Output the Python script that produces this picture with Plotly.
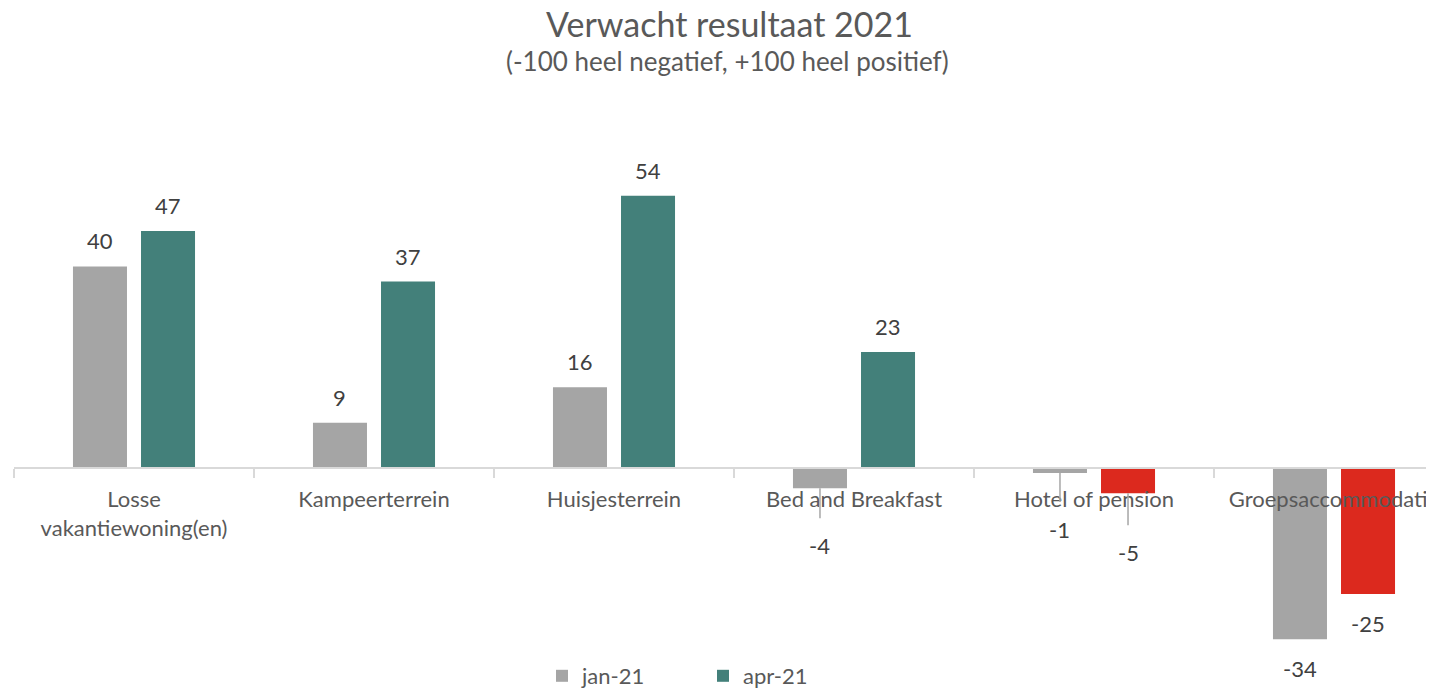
import plotly.graph_objects as go

categories = ["Losse<br>vakantiewoning(en)", "Kampeerterrein", "Huisjesterrein",
              "Bed and Breakfast", "Hotel of pension", "Groepsaccommodatie"]
jan21 = [40, 9, 16, -4, -1, -34]
apr21 = [47, 37, 54, 23, -5, -25]
series_names = ["jan-21", "apr-21"]

GRAY = "#A5A5A5"
TEAL = "#43807A"
RED = "#DC291E"
LABEL = "#404040"
AXIS = "#595959"
FONT = "Lato, 'Open Sans', sans-serif"

# page has an 8px body margin; figure is sized to fit the window
OFF = 8
W, H = 1434 - OFF, 688 - OFF
ML, MR, MT, MB = 14 - OFF, 0, 160 - OFF, 38
cat_px = 240.0
plot_w = W - ML - MR
plot_h = H - MT - MB
px_per_unit = 5.04
zero_px = 468 - OFF
ymax = (zero_px - MT) / px_per_unit
ymin = -((H - MB) - zero_px) / px_per_unit
bargap = 0.433
bar_shift = cat_px * (1 - bargap) / 4

apr_colors = [TEAL if v >= 0 else RED for v in apr21]

fig = go.Figure()
fig.add_trace(go.Bar(name=series_names[0], x=categories, y=jan21,
                     marker=dict(color=GRAY, line_width=0), hoverinfo="x+y"))
fig.add_trace(go.Bar(name=series_names[1], x=categories, y=apr21,
                     marker=dict(color=apr_colors, line_width=0), hoverinfo="x+y"))

# data labels, Excel-style; some negatives get leader lines
leader = {(0, 3): 57, (0, 4): 56, (1, 4): 59}
for s, vals in enumerate([jan21, apr21]):
    shift = -bar_shift if s == 0 else bar_shift
    for i, v in enumerate(vals):
        if (s, i) in leader:
            fig.add_annotation(x=categories[i], y=v, xshift=shift, text=str(v),
                               showarrow=True, arrowhead=0, arrowwidth=1.5,
                               arrowcolor="#A6A6A6", ax=0, ay=leader[(s, i)],
                               standoff=0, startstandoff=12,
                               font=dict(family=FONT, size=22, color=LABEL))
        elif v >= 0:
            fig.add_annotation(x=categories[i], y=v, xshift=shift, yshift=10,
                               yanchor="bottom", text=str(v), showarrow=False,
                               font=dict(family=FONT, size=22, color=LABEL))
        else:
            fig.add_annotation(x=categories[i], y=v, xshift=shift, yshift=-14,
                               yanchor="top", text=str(v), showarrow=False,
                               font=dict(family=FONT, size=22, color=LABEL))

fig.add_annotation(xref="paper", yref="paper", x=(729 - OFF - ML) / plot_w, y=1,
                   yshift=MT - (23 - OFF), yanchor="middle", showarrow=False,
                   text="Verwacht resultaat 2021",
                   font=dict(family=FONT, size=34, color=AXIS))
fig.add_annotation(xref="paper", yref="paper", x=(727 - OFF - ML) / plot_w, y=1,
                   yshift=MT - (61 - OFF), yanchor="middle", showarrow=False,
                   text="(-100 heel negatief, +100 heel positief)",
                   font=dict(family=FONT, size=26, color=AXIS))

fig.update_layout(
    width=W, height=H,
    margin=dict(l=ML, r=MR, t=MT, b=MB, autoexpand=False),
    paper_bgcolor="white", plot_bgcolor="white",
    barmode="group", bargap=bargap, bargroupgap=0.206,
    font=dict(family=FONT, size=22, color=AXIS),
    showlegend=True,
    legend=dict(orientation="h", xanchor="center", yanchor="middle",
                x=(703 - OFF - ML) / plot_w,
                y=-(676 - OFF - (H - MB)) / plot_h,
                font=dict(family=FONT, size=22, color=AXIS),
                entrywidth=116, entrywidthmode="pixels", itemwidth=30),
    xaxis=dict(type="category", range=[-0.5, -0.5 + plot_w / cat_px],
               anchor="free", position=(0 - ymin) / (ymax - ymin),
               automargin=False,
               showline=True, linecolor="#D9D9D9", linewidth=2,
               ticks="outside", tickson="boundaries", ticklen=9,
               tickcolor="#D9D9D9", tickwidth=2, showgrid=False,
               ticklabelstandoff=12,
               tickfont=dict(family=FONT, size=22, color=AXIS),
               fixedrange=True),
    yaxis=dict(range=[ymin, ymax], visible=False, showgrid=False,
               zeroline=False, fixedrange=True, automargin=False),
)

fig.write_html("out.html")
